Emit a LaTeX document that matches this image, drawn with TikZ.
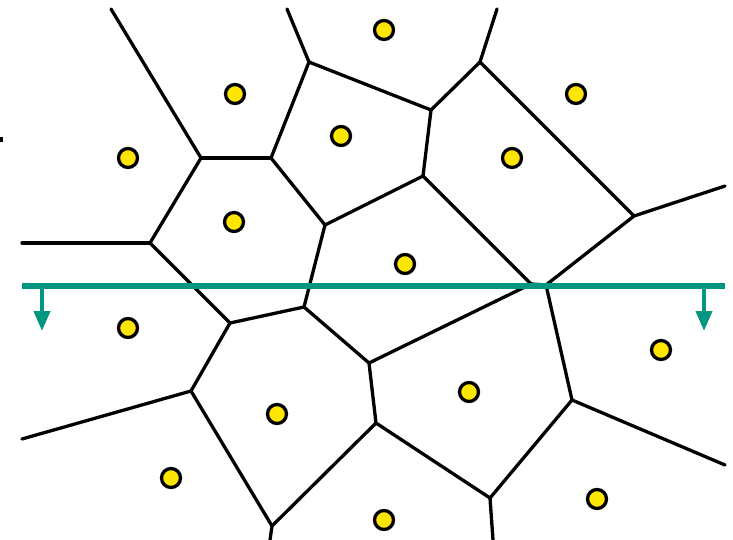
\documentclass[tikz,border=0pt]{standalone}
\usetikzlibrary{arrows.meta}
\definecolor{sweep}{RGB}{0,150,128}
\definecolor{site}{RGB}{255,230,0}
\begin{document}
\begin{tikzpicture}[x=1pt,y=-1pt,
  edge/.style={draw=black,line width=3.3pt,line cap=round,line join=round},
  sitept/.style={circle,draw=black,fill=site,line width=3.3pt,minimum size=19pt,inner sep=0pt},
  sweepline/.style={draw=sweep,line width=6.5pt},
  sweeparrow/.style={draw=sweep,line width=4pt,-{Triangle[length=20pt,width=16pt]}}]
\useasboundingbox (0,0) rectangle (733,540);
% vertices
\coordinate (t1) at (111,9);
\coordinate (t2) at (287,9);
\coordinate (t3) at (497,9);
\coordinate (v1) at (309,62);
\coordinate (v2) at (480,62);
\coordinate (v3) at (431,110);
\coordinate (v4) at (201,158);
\coordinate (v5) at (271,158);
\coordinate (v6) at (423,176);
\coordinate (v7) at (634,216);
\coordinate (r1) at (725,186);
\coordinate (l1) at (22,243);
\coordinate (v8) at (150,243);
\coordinate (v9) at (325,225);
\coordinate (v10) at (531,284);
\coordinate (v11) at (546,285);
\coordinate (v12) at (304,307);
\coordinate (v13) at (230,323);
\coordinate (v14) at (369,363);
\coordinate (v15) at (572,400);
\coordinate (v16) at (191,391);
\coordinate (l2) at (22,439);
\coordinate (v17) at (376,423);
\coordinate (v18) at (490,498);
\coordinate (v19) at (272,526);
\coordinate (b1) at (270,540);
\coordinate (b2) at (493,540);
\coordinate (r2) at (725,465);
% edges
\draw[edge] (t1) -- (v4);
\draw[edge] (t2) -- (v1);
\draw[edge] (t3) -- (v2);
\draw[edge] (v1) -- (v3);
\draw[edge] (v2) -- (v3);
\draw[edge] (v1) -- (v5);
\draw[edge] (v4) -- (v5);
\draw[edge] (v3) -- (v6);
\draw[edge] (v2) -- (v7);
\draw[edge] (v7) -- (r1);
\draw[edge] (v4) -- (v8);
\draw[edge] (l1) -- (v8);
\draw[edge] (v5) -- (v9);
\draw[edge] (v6) -- (v9);
\draw[edge] (v9) -- (v12);
\draw[edge] (v6) -- (v10);
\draw[edge] (v7) -- (v11);
\draw[edge] (v10) -- (v11);
\draw[edge] (v8) -- (v13);
\draw[edge] (v13) -- (v12);
\draw[edge] (v12) -- (v14);
\draw[edge] (v14) -- (v10);
\draw[edge] (v11) -- (v15);
\draw[edge] (v13) -- (v16);
\draw[edge] (l2) -- (v16);
\draw[edge] (v16) -- (v19);
\draw[edge] (v19) -- (b1);
\draw[edge] (v14) -- (v17);
\draw[edge] (v17) -- (v19);
\draw[edge] (v17) -- (v18);
\draw[edge] (v15) -- (v18);
\draw[edge] (v18) -- (b2);
\draw[edge] (v15) -- (r2);
% small mark at left edge
\fill[black] (0,137) rectangle (3,142);
% sweep line
\coordinate (sL) at (22,286);
\coordinate (sR) at (725,286);
\coordinate (aL1) at (42,286);
\coordinate (aL2) at (42,331);
\coordinate (aR1) at (704,286);
\coordinate (aR2) at (704,331);
\draw[sweeparrow] (aL1) -- (aL2);
\draw[sweeparrow] (aR1) -- (aR2);
\draw[sweepline] (sL) -- (sR);
% sites
\node[sitept] (p1) at (384,30) {};
\node[sitept] (p2) at (235,94) {};
\node[sitept] (p3) at (576,94) {};
\node[sitept] (p4) at (341,136) {};
\node[sitept] (p5) at (128,158) {};
\node[sitept] (p6) at (512,158) {};
\node[sitept] (p7) at (234,222) {};
\node[sitept] (p8) at (405,264) {};
\node[sitept] (p9) at (128,328) {};
\node[sitept] (p10) at (661,350) {};
\node[sitept] (p11) at (469,392) {};
\node[sitept] (p12) at (277,414) {};
\node[sitept] (p13) at (171,478) {};
\node[sitept] (p14) at (384,520) {};
\node[sitept] (p15) at (597,499) {};
\end{tikzpicture}
\end{document}
